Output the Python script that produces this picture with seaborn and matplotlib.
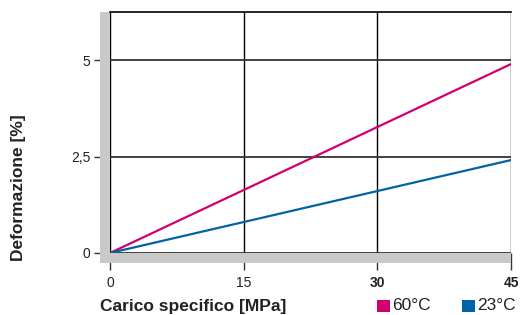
import pandas as pd
import seaborn as sns
import matplotlib.pyplot as plt
from matplotlib.patches import Rectangle

# data
carico = [0, 45]
def_60 = [0, 4.9]
def_23 = [0, 2.41]
series = ['60°C', '23°C']
colors = ['#d2006e', '#0063a6']
x_ticks = [0, 15, 30, 45]
y_ticks = [0, 2.5, 5]
y_labels = ['0', '2,5', '5']

df = pd.DataFrame({
    'Carico': carico + carico,
    'Deformazione': def_60 + def_23,
    'Serie': [series[0]] * 2 + [series[1]] * 2,
})

sns.set_theme(style='white')
plt.rcParams['font.family'] = ['Liberation Sans', 'DejaVu Sans']

fig = plt.figure(figsize=(5.2, 3.15), dpi=100)
W, H = 520, 315
ax = fig.add_axes([110 / W, 62 / H, 401 / W, 241 / H])

sns.lineplot(data=df, x='Carico', y='Deformazione', hue='Serie',
             palette=colors, hue_order=series, linewidth=1.6,
             legend=False, ax=ax, zorder=3)

ax.set_xlim(0, 45)
ax.set_ylim(0, 6.25)
ax.set_xticks(x_ticks)
ax.set_yticks(y_ticks)
ax.set_yticklabels(y_labels)
ax.set_xlabel('')
ax.set_ylabel('')

# grid
ax.set_axisbelow(True)
ax.grid(True, axis='x', color='black', linewidth=1.0)
ax.grid(True, axis='y', color='#333333', linewidth=1.3)

for s in ['left', 'bottom', 'right']:
    ax.spines[s].set_visible(False)
ax.spines['top'].set_color('black')
ax.spines['top'].set_linewidth(1.2)

ax.tick_params(axis='y', direction='out', length=16 * 0.72, width=1,
               color='#333333', pad=2.5, labelsize=10, labelcolor='#222222', left=True)
ax.tick_params(axis='x', direction='out', length=17 * 0.72, width=1,
               color='#333333', pad=4.5, labelsize=10, labelcolor='#222222', bottom=True)
for lab in ax.get_xticklabels()[2:]:
    lab.set_fontweight('bold')

# grey L-shaped frame
gx = 10 / 401
gy = 10 / 241
ax.add_patch(Rectangle((-gx, -gy), gx, 1 + gy, transform=ax.transAxes,
                       color='#c9c9c9', clip_on=False, zorder=1, linewidth=0))
ax.add_patch(Rectangle((-gx, -gy), 1 + gx, gy, transform=ax.transAxes,
                       color='#c9c9c9', clip_on=False, zorder=1, linewidth=0))

# axis titles
fig.text(100 / W, 1 - 306 / H, 'Carico specifico [MPa]', fontsize=12.5,
         fontweight='bold', color='#222222', ha='left', va='center')
fig.text(19 / W, 1 - 188 / H, 'Deformazione [%]', fontsize=12.5,
         fontweight='bold', color='#222222', ha='center', va='center',
         rotation=90)

# legend
leg_x = [377, 462]
for i, name in enumerate(series):
    fig.patches.append(Rectangle((leg_x[i] / W, (315 - 312) / H), 12.5 / W, 12.5 / H,
                                 transform=fig.transFigure, color=colors[i],
                                 linewidth=0))
    fig.text((leg_x[i] + 15) / W, 1 - 306 / H, name, fontsize=12.5,
             color='#222222', ha='left', va='center')

fig.savefig('out.png', dpi=100)
